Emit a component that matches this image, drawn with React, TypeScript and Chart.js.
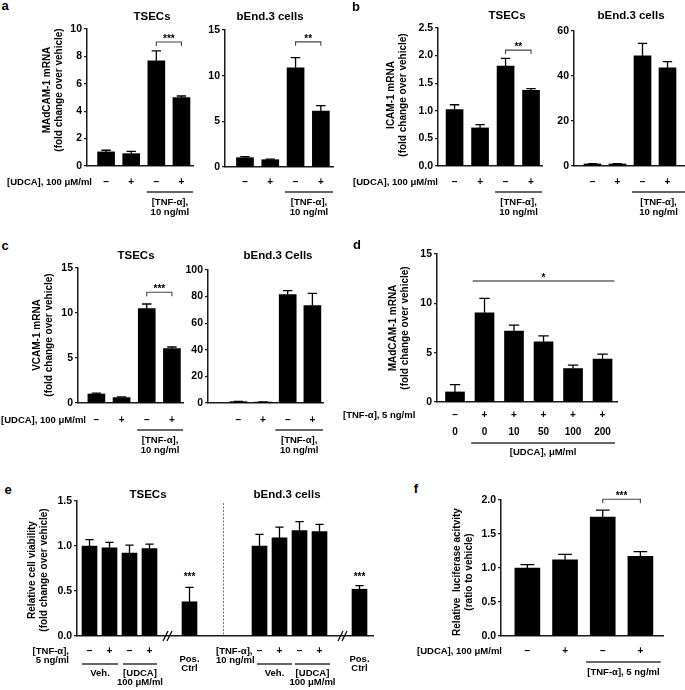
import React, { useEffect, useRef } from "react";
import { Chart, registerables } from "chart.js";

Chart.register(...registerables);

// ---------------- DATA ----------------
const udcaSigns = ["–", "+", "–", "+"];
const tnfSigns = ["–", "+", "+", "+", "+", "+"];
const udcaDoses = ["0", "0", "10", "50", "100", "200"];
const viabSigns = ["–", "+", "–", "+", "", "–", "+", "–", "+", ""];

const pos4 = [1, 2, 3, 4];
const pos6 = [1, 2, 3, 4, 5, 6];
const posViab = [0, 1, 2, 3, 5, 8.5, 9.5, 10.5, 11.5, 13.5];

const madcamTsecMean = [1.03, 0.9, 7.68, 4.99];
const madcamTsecSem = [0.12, 0.17, 0.73, 0.12];
const madcamBendMean = [1.02, 0.8, 10.87, 6.13];
const madcamBendSem = [0.12, 0.06, 1.1, 0.6];

const icamTsecMean = [1.02, 0.69, 1.81, 1.37];
const icamTsecSem = [0.09, 0.06, 0.14, 0.03];
const icamBendMean = [0.9, 0.9, 49.0, 43.6];
const icamBendSem = [0.2, 0.2, 5.5, 2.8];

const vcamTsecMean = [1.0, 0.6, 10.48, 6.04];
const vcamTsecSem = [0.1, 0.07, 0.52, 0.18];
const vcamBendMean = [1.0, 0.7, 81.5, 73.3];
const vcamBendSem = [0.2, 0.2, 3.0, 9.2];

const doseMean = [1.02, 9.05, 7.2, 6.1, 3.39, 4.34];
const doseSem = [0.74, 1.45, 0.6, 0.6, 0.34, 0.51];

const viabTsecMean = [1.0, 0.98, 0.92, 0.97, 0.38];
const viabTsecSem = [0.07, 0.06, 0.09, 0.05, 0.16];
const viabBendMean = [1.0, 1.09, 1.17, 1.16, 0.52];
const viabBendSem = [0.13, 0.12, 0.1, 0.08, 0.04];

const lucMean = [1.0, 1.12, 1.75, 1.17];
const lucSem = [0.05, 0.08, 0.1, 0.07];

// ---------------- STYLE ----------------
const FONT = '"Liberation Sans", Arial, Helvetica, sans-serif';
const AXIS = "#1a1a1a";
const Y_W = 40;
const PAD_TOP = 22;

type Row = { dy: number; labels: string[] };
type Group = { from: number; to: number; lineDy?: number; texts: { t: string; dy: number }[] };
type Bracket = {
  from: number; to: number; y: number; text: string;
  drop?: number; color?: string; width?: number; line?: boolean;
};
type Spec = {
  area: { l: number; r: number; t: number; b: number };
  padBottom: number;
  padRight?: number;
  xMin: number; xMax: number;
  positions: number[];
  means: number[]; errs: number[];
  yMax: number; yStep: number; yDec: number;
  barW: number;
  rows: Row[];
  groups: Group[];
  brackets: Bracket[];
  breaks?: number[];
  separators?: number[];
};

function makePlugin(spec: Spec) {
  return {
    id: "annot",
    afterDatasetsDraw(chart: any) {
      const ctx = chart.ctx as CanvasRenderingContext2D;
      const xs = chart.scales.x;
      const ys = chart.scales.y;
      const area = chart.chartArea;
      ctx.save();
      const meta = chart.getDatasetMeta(0);
      ctx.strokeStyle = "#000";
      ctx.lineWidth = 1.3;
      meta.data.forEach((bar: any, i: number) => {
        const p = bar.getProps(["x", "y", "width"], true);
        const yTop = ys.getPixelForValue(spec.means[i] + spec.errs[i]);
        const cap = p.width * 0.55;
        ctx.beginPath();
        ctx.moveTo(p.x, p.y);
        ctx.lineTo(p.x, yTop);
        ctx.moveTo(p.x - cap / 2, yTop);
        ctx.lineTo(p.x + cap / 2, yTop);
        ctx.stroke();
      });
      spec.brackets.forEach((b) => {
        const x1 = xs.getPixelForValue(b.from);
        const x2 = xs.getPixelForValue(b.to);
        const y = ys.getPixelForValue(b.y);
        if (b.line !== false) {
          const d = b.drop ?? 4;
          ctx.strokeStyle = b.color ?? "#444";
          ctx.lineWidth = b.width ?? 1.1;
          ctx.beginPath();
          ctx.moveTo(x1, y + d);
          ctx.lineTo(x1, y);
          ctx.lineTo(x2, y);
          ctx.lineTo(x2, y + d);
          ctx.stroke();
        }
        ctx.fillStyle = "#000";
        ctx.font = `bold 10px ${FONT}`;
        ctx.textAlign = "center";
        ctx.textBaseline = "alphabetic";
        ctx.fillText(b.text, (x1 + x2) / 2, y);
      });
      (spec.separators ?? []).forEach((sx) => {
        const x = xs.getPixelForValue(sx);
        ctx.strokeStyle = "#777";
        ctx.lineWidth = 1;
        ctx.setLineDash([2, 1.5]);
        ctx.beginPath();
        ctx.moveTo(x, area.top + 2);
        ctx.lineTo(x, area.bottom);
        ctx.stroke();
        ctx.setLineDash([]);
      });
      ctx.restore();
    },
    afterDraw(chart: any) {
      const ctx = chart.ctx as CanvasRenderingContext2D;
      const xs = chart.scales.x;
      const bottom = chart.chartArea.bottom;
      ctx.save();
      ctx.fillStyle = "#000";
      ctx.textAlign = "center";
      ctx.textBaseline = "middle";
      spec.rows.forEach((r) => {
        ctx.font = `bold 10px ${FONT}`;
        r.labels.forEach((lab, i) => {
          if (!lab) return;
          ctx.fillText(lab, xs.getPixelForValue(spec.positions[i]), bottom + r.dy);
        });
      });
      spec.groups.forEach((g) => {
        const x1 = xs.getPixelForValue(g.from);
        const x2 = xs.getPixelForValue(g.to);
        if (g.lineDy !== undefined) {
          ctx.strokeStyle = "#333";
          ctx.lineWidth = 1.5;
          ctx.beginPath();
          ctx.moveTo(x1, bottom + g.lineDy);
          ctx.lineTo(x2, bottom + g.lineDy);
          ctx.stroke();
        }
        ctx.font = `bold 9.5px ${FONT}`;
        g.texts.forEach((t) => ctx.fillText(t.t, (x1 + x2) / 2, bottom + t.dy));
      });
      (spec.breaks ?? []).forEach((bx) => {
        const x = xs.getPixelForValue(bx);
        ctx.strokeStyle = "#000";
        ctx.lineWidth = 1.2;
        ctx.beginPath();
        ctx.moveTo(x - 4, bottom + 5);
        ctx.lineTo(x + 1, bottom - 5);
        ctx.moveTo(x, bottom + 5);
        ctx.lineTo(x + 5, bottom - 5);
        ctx.stroke();
      });
      ctx.restore();
    },
  };
}

function BarPanel({ spec }: { spec: Spec }) {
  const ref = useRef<HTMLCanvasElement>(null);
  const padRight = spec.padRight ?? 8;
  const left = spec.area.l - Y_W;
  const top = spec.area.t - PAD_TOP;
  const width = spec.area.r + padRight - left;
  const height = spec.area.b + spec.padBottom - top;

  useEffect(() => {
    const chart = new Chart(ref.current as HTMLCanvasElement, {
      type: "bar",
      data: {
        datasets: [
          {
            data: spec.positions.map((x, i) => ({ x, y: spec.means[i] })),
            backgroundColor: "#000",
            borderWidth: 0,
            barThickness: spec.barW,
          } as any,
        ],
      },
      options: {
        animation: false,
        responsive: false,
        maintainAspectRatio: false,
        events: [],
        layout: { padding: { left: 0, top: PAD_TOP, right: padRight, bottom: spec.padBottom } },
        plugins: { legend: { display: false }, tooltip: { enabled: false }, title: { display: false } },
        scales: {
          x: {
            type: "linear",
            min: spec.xMin,
            max: spec.xMax,
            offset: false,
            ticks: { display: false },
            grid: { display: false },
            border: { display: true, color: AXIS, width: 1.5 },
            afterFit: (s: any) => { s.height = 0; },
          },
          y: {
            type: "linear",
            min: 0,
            max: spec.yMax,
            ticks: {
              stepSize: spec.yStep,
              color: "#000",
              padding: 2,
              font: { family: FONT, size: 10.5, weight: "bold" },
              callback: (v: any) => Number(v).toFixed(spec.yDec),
            },
            grid: { drawOnChartArea: false, drawTicks: true, tickLength: 3, color: AXIS, lineWidth: 1.2 },
            border: { color: AXIS, width: 1.5 },
            afterFit: (s: any) => { s.width = Y_W; },
          },
        } as any,
      },
      plugins: [makePlugin(spec) as any],
    });
    return () => chart.destroy();
  }, []);

  return (
    <canvas
      ref={ref}
      width={width}
      height={height}
      style={{ position: "absolute", left, top, width, height }}
    />
  );
}

function Txt(props: {
  x: number; y: number; size?: number; align?: "center" | "left" | "right";
  rotate?: boolean; children: React.ReactNode;
}) {
  const { x, y, size = 9.5, align = "center", rotate, children } = props;
  const tx = align === "center" ? "-50%" : align === "right" ? "-100%" : "0";
  return (
    <div
      style={{
        position: "absolute",
        left: x,
        top: y,
        transform: `translate(${tx},-50%)` + (rotate ? " rotate(-90deg)" : ""),
        fontFamily: FONT,
        fontWeight: "bold",
        fontSize: size,
        lineHeight: 1,
        whiteSpace: "pre",
        color: "#000",
      }}
    >
      {children}
    </div>
  );
}

const tnfGroup = (from: number, to: number, dy: number, t2: string): Group => ({
  from, to, lineDy: dy, texts: [{ t: "[TNF-α],", dy: dy + 10 }, { t: t2, dy: dy + 20 }],
});

const specs: Spec[] = [
  {
    area: { l: 87, r: 193, t: 29, b: 166 }, padBottom: 54,
    xMin: 0.24, xMax: 4.46, positions: pos4, means: madcamTsecMean, errs: madcamTsecSem,
    yMax: 10, yStep: 2, yDec: 0, barW: 17,
    rows: [{ dy: 16, labels: udcaSigns }],
    groups: [tnfGroup(2.62, 4.46, 26, "10 ng/ml")],
    brackets: [{ from: 3, to: 4, y: 9.05, text: "***" }],
  },
  {
    area: { l: 225, r: 333, t: 30, b: 167 }, padBottom: 54,
    xMin: 0.21, xMax: 4.48, positions: pos4, means: madcamBendMean, errs: madcamBendSem,
    yMax: 15, yStep: 5, yDec: 0, barW: 17,
    rows: [{ dy: 15, labels: udcaSigns }],
    groups: [tnfGroup(2.58, 4.48, 25, "10 ng/ml")],
    brackets: [{ from: 3, to: 4, y: 13.7, text: "**" }],
  },
  {
    area: { l: 438, r: 542, t: 28, b: 166 }, padBottom: 54,
    xMin: 0.35, xMax: 4.43, positions: pos4, means: icamTsecMean, errs: icamTsecSem,
    yMax: 2.5, yStep: 0.5, yDec: 1, barW: 17,
    rows: [{ dy: 16, labels: udcaSigns }],
    groups: [tnfGroup(2.59, 4.43, 26, "10 ng/ml")],
    brackets: [{ from: 3, to: 4, y: 2.1, text: "**" }],
  },
  {
    area: { l: 574, r: 685, t: 31, b: 166 }, padBottom: 54, padRight: 0,
    xMin: 0.26, xMax: 4.7, positions: pos4, means: icamBendMean, errs: icamBendSem,
    yMax: 60, yStep: 20, yDec: 0, barW: 17,
    rows: [{ dy: 16, labels: udcaSigns }],
    groups: [tnfGroup(2.58, 4.7, 26, "10 ng/ml")],
    brackets: [],
  },
  {
    area: { l: 78, r: 183, t: 268, b: 403 }, padBottom: 56,
    xMin: 0.27, xMax: 4.44, positions: pos4, means: vcamTsecMean, errs: vcamTsecSem,
    yMax: 15, yStep: 5, yDec: 0, barW: 17,
    rows: [{ dy: 17, labels: udcaSigns }],
    groups: [tnfGroup(2.62, 4.44, 27, "10 ng/ml")],
    brackets: [{ from: 3, to: 4, y: 12.3, text: "***" }],
  },
  {
    area: { l: 208, r: 323, t: 270, b: 403 }, padBottom: 56,
    xMin: -0.23, xMax: 4.43, positions: pos4, means: vcamBendMean, errs: vcamBendSem,
    yMax: 100, yStep: 20, yDec: 0, barW: 17,
    rows: [{ dy: 17, labels: udcaSigns }],
    groups: [tnfGroup(2.5, 4.43, 27, "10 ng/ml")],
    brackets: [],
  },
  {
    area: { l: 437, r: 617, t: 254, b: 402 }, padBottom: 58,
    xMin: 0.39, xMax: 6.49, positions: pos6, means: doseMean, errs: doseSem,
    yMax: 15, yStep: 5, yDec: 0, barW: 19,
    rows: [{ dy: 13, labels: tnfSigns }, { dy: 30, labels: udcaDoses }],
    groups: [{ from: 1.55, to: 6.42, lineDy: 41, texts: [{ t: "[UDCA], μM/ml", dy: 50 }] }],
    brackets: [{ from: 1.6, to: 6.4, y: 12.26, text: "*", drop: 0, color: "#8a8a8a", width: 2 }],
  },
  {
    area: { l: 77, r: 373, t: 501, b: 636 }, padBottom: 54,
    xMin: -0.625, xMax: 14.175, positions: posViab,
    means: [...viabTsecMean, ...viabBendMean], errs: [...viabTsecSem, ...viabBendSem],
    yMax: 1.5, yStep: 0.5, yDec: 1, barW: 15,
    rows: [{ dy: 15, labels: viabSigns }],
    groups: [
      { from: -0.375, to: 1.425, lineDy: 28, texts: [{ t: "Veh.", dy: 37 }] },
      { from: 1.675, to: 3.375, lineDy: 28, texts: [{ t: "[UDCA]", dy: 37 }, { t: "100 μM/ml", dy: 46 }] },
      { from: 5, to: 5, texts: [{ t: "Pos.", dy: 23 }, { t: "Ctrl", dy: 32 }] },
      { from: 8.375, to: 10.125, lineDy: 28, texts: [{ t: "Veh.", dy: 37 }] },
      { from: 10.275, to: 12.025, lineDy: 28, texts: [{ t: "[UDCA]", dy: 37 }, { t: "100 μM/ml", dy: 46 }] },
      { from: 13.5, to: 13.5, texts: [{ t: "Pos.", dy: 23 }, { t: "Ctrl", dy: 32 }] },
    ],
    brackets: [
      { from: 5, to: 5, y: 0.62, text: "***", line: false },
      { from: 13.5, to: 13.5, y: 0.62, text: "***", line: false },
    ],
    breaks: [3.875, 12.625],
    separators: [6.7],
  },
  {
    area: { l: 501, r: 663, t: 500, b: 636 }, padBottom: 46,
    xMin: 0.3, xMax: 4.6, positions: pos4, means: lucMean, errs: lucSem,
    yMax: 2.0, yStep: 0.5, yDec: 1, barW: 25,
    rows: [{ dy: 15, labels: udcaSigns }],
    groups: [{ from: 2.56, to: 4.54, lineDy: 26, texts: [{ t: "[TNF-α], 5 ng/ml", dy: 36 }] }],
    brackets: [{ from: 3, to: 4, y: 2.01, text: "***" }],
  },
];

export default function App() {
  return (
    <div style={{ position: "absolute", left: 0, top: 0, width: 685, height: 690, background: "#fff", overflow: "hidden" }}>
      {specs.map((s, i) => (
        <BarPanel key={i} spec={s} />
      ))}
      <Txt x={5} y={5} size={13}>a</Txt>
      <Txt x={356} y={6} size={13}>b</Txt>
      <Txt x={5} y={245} size={13}>c</Txt>
      <Txt x={357} y={244} size={13}>d</Txt>
      <Txt x={8} y={489} size={13}>e</Txt>
      <Txt x={416} y={488} size={13}>f</Txt>
      <Txt x={152} y={17} size={11.5}>TSECs</Txt>
      <Txt x={270} y={17} size={11.5}>bEnd.3 cells</Txt>
      <Txt x={507} y={16} size={11.5}>TSECs</Txt>
      <Txt x={631} y={16} size={11.5}>bEnd.3 cells</Txt>
      <Txt x={136} y={256} size={11.5}>TSECs</Txt>
      <Txt x={278} y={256} size={11.5}>bEnd.3 Cells</Txt>
      <Txt x={148} y={495} size={11.5}>TSECs</Txt>
      <Txt x={287} y={495} size={11.5}>bEnd.3 cells</Txt>
      <Txt x={47} y={90} size={10} rotate>MAdCAM-1 mRNA</Txt>
      <Txt x={59} y={90} size={10} rotate>(fold change over vehicle)</Txt>
      <Txt x={391} y={95} size={10} rotate>ICAM-1 mRNA</Txt>
      <Txt x={403} y={95} size={10} rotate>(fold change over vehicle)</Txt>
      <Txt x={37} y={335} size={10} rotate>VCAM-1 mRNA</Txt>
      <Txt x={49} y={335} size={10} rotate>(fold change over vehicle)</Txt>
      <Txt x={393} y={328} size={10} rotate>MAdCAM-1 mRNA</Txt>
      <Txt x={405} y={328} size={10} rotate>(fold change over vehicle)</Txt>
      <Txt x={32} y={570} size={10} rotate>Relative cell viability</Txt>
      <Txt x={44} y={570} size={10} rotate>(fold change over vehicle)</Txt>
      <Txt x={457} y={572} size={10} rotate>Relative  luciferase acitvity</Txt>
      <Txt x={469} y={572} size={10} rotate>(ratio to vehicle)</Txt>
      <Txt x={7} y={182} align="left">[UDCA], 100 μM/ml</Txt>
      <Txt x={353} y={182} align="left">[UDCA], 100 μM/ml</Txt>
      <Txt x={1} y={420} align="left">[UDCA], 100 μM/ml</Txt>
      <Txt x={343} y={415} align="left">[TNF-α], 5 ng/ml</Txt>
      <Txt x={69} y={651} align="right">[TNF-α],</Txt>
      <Txt x={69} y={660} align="right">5 ng/ml</Txt>
      <Txt x={216} y={651} align="left">[TNF-α],</Txt>
      <Txt x={216} y={660} align="left">10 ng/ml</Txt>
      <Txt x={417} y={651} align="left">[UDCA], 100 μM/ml</Txt>
    </div>
  );
}
